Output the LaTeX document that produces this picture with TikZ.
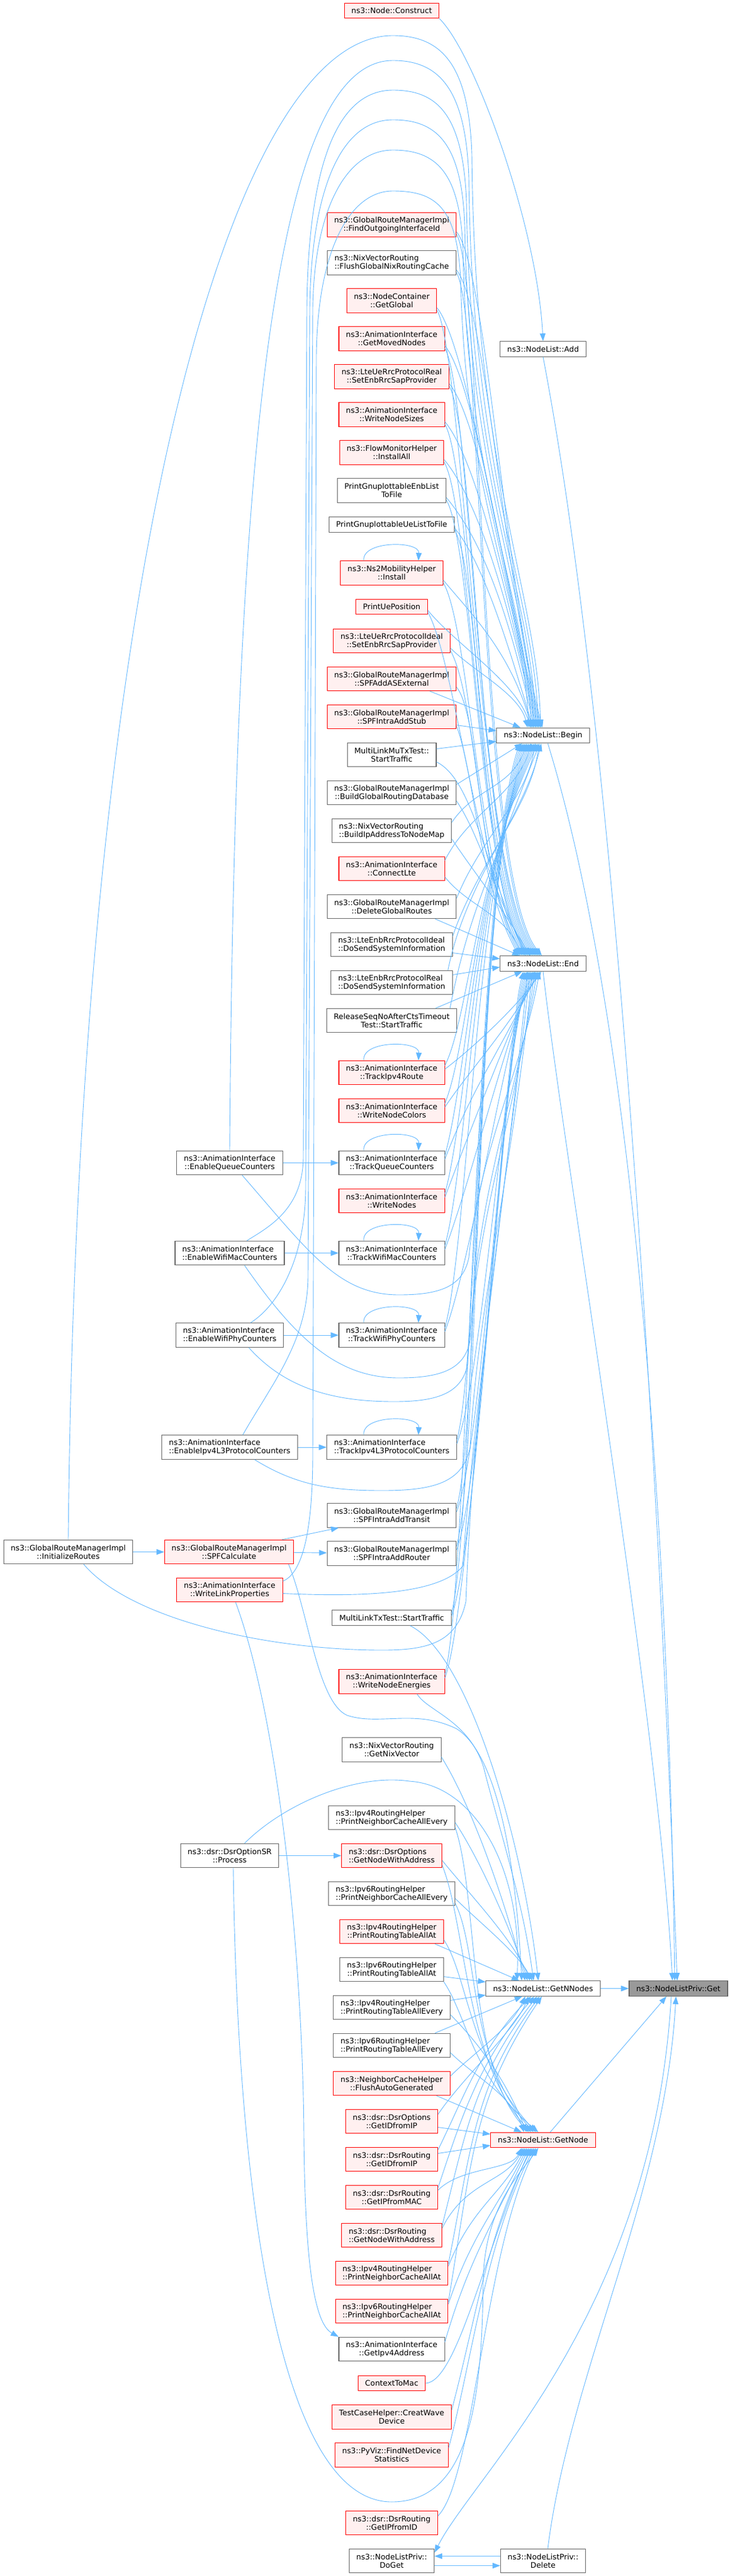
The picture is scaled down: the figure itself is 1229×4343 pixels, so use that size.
\documentclass[tikz,border=0pt]{standalone}
\usepackage{fontspec}
\setmainfont{DejaVu Sans}
\usetikzlibrary{arrows.meta}
\definecolor{edgeblue}{HTML}{63B8FF}
\definecolor{boxgray}{HTML}{666666}
\definecolor{redfill}{HTML}{FFF0F0}
\definecolor{rootfill}{HTML}{999999}

\begin{document}
\begin{tikzpicture}[x=1pt,y=-1pt,
  fn/.style={rectangle,draw=boxgray,fill=white,line width=1.1pt,align=center,font=\fontsize{12.8}{14}\selectfont,inner xsep=12pt,inner ysep=0pt,minimum height=25.5pt},
  two/.style={minimum height=40.5pt},
  hot/.style={draw=red,fill=redfill},
  lft/.style={align=left},
  calls/.style={draw=edgeblue,line width=0.9pt,-{Triangle[length=13pt,width=9.5pt]}}]
\fill[white] (0,0) rectangle (1229,4343);

\node[fn,hot] (construct) at (660,18) {ns3::Node::Construct};
\node[fn,two,hot] (findoutif) at (660,379) {ns3::GlobalRouteManagerImpl\\::FindOutgoingInterfaceId};
\node[fn,two,lft] (flushnix) at (660,443) {ns3::NixVectorRouting\\::FlushGlobalNixRoutingCache};
\node[fn,two,hot] (getglobal) at (660,507) {ns3::NodeContainer\\::GetGlobal};
\node[fn,two,hot] (movednodes) at (660,571) {ns3::AnimationInterface\\::GetMovedNodes};
\node[fn,two,hot] (uerrcreal) at (660,635) {ns3::LteUeRrcProtocolReal\\::SetEnbRrcSapProvider};
\node[fn,two,hot] (nodesizes) at (660,699) {ns3::AnimationInterface\\::WriteNodeSizes};
\node[fn,two,hot] (installall) at (660,763) {ns3::FlowMonitorHelper\\::InstallAll};
\node[fn,two] (enblist) at (660,827) {PrintGnuplottableEnbList\\ToFile};
\node[fn] (uelist) at (660,884.5) {PrintGnuplottableUeListToFile};
\node[fn,two,hot] (ns2install) at (660,966) {ns3::Ns2MobilityHelper\\::Install};
\node[fn,hot] (ueposition) at (660,1023) {PrintUePosition};
\node[fn,two,hot] (uerrcideal) at (660,1080.5) {ns3::LteUeRrcProtocolIdeal\\::SetEnbRrcSapProvider};
\node[fn,two,hot] (asexternal) at (660,1144.5) {ns3::GlobalRouteManagerImpl\\::SPFAddASExternal};
\node[fn,two,hot] (addstub) at (660,1208.5) {ns3::GlobalRouteManagerImpl\\::SPFIntraAddStub};
\node[fn,two] (mumutx) at (660,1272.5) {MultiLinkMuTxTest::\\StartTraffic};
\node[fn,two] (buildgrd) at (660,1336.5) {ns3::GlobalRouteManagerImpl\\::BuildGlobalRoutingDatabase};
\node[fn,two,lft] (buildipmap) at (660,1400.5) {ns3::NixVectorRouting\\::BuildIpAddressToNodeMap};
\node[fn,two,hot] (connectlte) at (660,1464.5) {ns3::AnimationInterface\\::ConnectLte};
\node[fn,two] (delroutes) at (660,1528.5) {ns3::GlobalRouteManagerImpl\\::DeleteGlobalRoutes};
\node[fn,two,lft] (enbideal) at (660,1592.5) {ns3::LteEnbRrcProtocolIdeal\\::DoSendSystemInformation};
\node[fn,two,lft] (enbreal) at (660,1656.5) {ns3::LteEnbRrcProtocolReal\\::DoSendSystemInformation};
\node[fn,two] (releaseseq) at (660,1720.5) {ReleaseSeqNoAfterCtsTimeout\\Test::StartTraffic};
\node[fn,two,hot] (trackroute) at (660,1808.5) {ns3::AnimationInterface\\::TrackIpv4Route};
\node[fn,two,hot] (nodecolors) at (660,1872.5) {ns3::AnimationInterface\\::WriteNodeColors};
\node[fn,two] (trackqueue) at (660,1960.5) {ns3::AnimationInterface\\::TrackQueueCounters};
\node[fn,two,hot] (writenodes) at (660,2024.5) {ns3::AnimationInterface\\::WriteNodes};
\node[fn,two] (trackmac) at (660,2112.5) {ns3::AnimationInterface\\::TrackWifiMacCounters};
\node[fn,two] (trackphy) at (660,2251) {ns3::AnimationInterface\\::TrackWifiPhyCounters};
\node[fn,two,lft] (trackl3) at (660,2440) {ns3::AnimationInterface\\::TrackIpv4L3ProtocolCounters};
\node[fn,two] (addtransit) at (660,2555) {ns3::GlobalRouteManagerImpl\\::SPFIntraAddTransit};
\node[fn,two] (addrouter) at (660,2619) {ns3::GlobalRouteManagerImpl\\::SPFIntraAddRouter};
\node[fn] (multitx) at (660,2727.5) {MultiLinkTxTest::StartTraffic};
\node[fn,two,hot] (nodeenergies) at (660,2835) {ns3::AnimationInterface\\::WriteNodeEnergies};
\node[fn,two] (getnix) at (660,2950) {ns3::NixVectorRouting\\::GetNixVector};
\node[fn,two,lft] (v4neighevery) at (660,3064.5) {ns3::Ipv4RoutingHelper\\::PrintNeighborCacheAllEvery};
\node[fn,two,hot,lft] (optnodeaddr) at (660,3128.5) {ns3::dsr::DsrOptions\\::GetNodeWithAddress};
\node[fn,two,lft] (v6neighevery) at (660,3192.5) {ns3::Ipv6RoutingHelper\\::PrintNeighborCacheAllEvery};
\node[fn,two,hot] (v4tableat) at (660,3256.5) {ns3::Ipv4RoutingHelper\\::PrintRoutingTableAllAt};
\node[fn,two] (v6tableat) at (660,3320.5) {ns3::Ipv6RoutingHelper\\::PrintRoutingTableAllAt};
\node[fn,two,lft] (v4tableevery) at (660,3384.5) {ns3::Ipv4RoutingHelper\\::PrintRoutingTableAllEvery};
\node[fn,two,lft] (v6tableevery) at (660,3448.5) {ns3::Ipv6RoutingHelper\\::PrintRoutingTableAllEvery};
\node[fn,two,hot] (flushauto) at (660,3512.5) {ns3::NeighborCacheHelper\\::FlushAutoGenerated};
\node[fn,two,hot] (optidfromip) at (660,3576.5) {ns3::dsr::DsrOptions\\::GetIDfromIP};
\node[fn,two,hot] (routeidfromip) at (660,3640.5) {ns3::dsr::DsrRouting\\::GetIDfromIP};
\node[fn,two,hot] (ipfrommac) at (660,3704.5) {ns3::dsr::DsrRouting\\::GetIPfromMAC};
\node[fn,two,hot,lft] (routenodeaddr) at (660,3768.5) {ns3::dsr::DsrRouting\\::GetNodeWithAddress};
\node[fn,two,hot,lft] (v4neighat) at (660,3832.5) {ns3::Ipv4RoutingHelper\\::PrintNeighborCacheAllAt};
\node[fn,two,hot,lft] (v6neighat) at (660,3896.5) {ns3::Ipv6RoutingHelper\\::PrintNeighborCacheAllAt};
\node[fn,two] (getipv4addr) at (660,3960.5) {ns3::AnimationInterface\\::GetIpv4Address};
\node[fn,hot] (contexttomac) at (660,4018) {ContextToMac};
\node[fn,two,hot] (creatwave) at (660,4075) {TestCaseHelper::CreatWave\\Device};
\node[fn,two,hot] (pyviz) at (660,4139) {ns3::PyViz::FindNetDevice\\Statistics};
\node[fn,two,hot] (ipfromid) at (660,4253.5) {ns3::dsr::DsrRouting\\::GetIPfromID};
\node[fn,two] (doget) at (660,4317.5) {ns3::NodeListPriv::\\DoGet};

\node[fn,two] (enqueue) at (387,1960.5) {ns3::AnimationInterface\\::EnableQueueCounters};
\node[fn,two,lft] (enmac) at (387,2112.5) {ns3::AnimationInterface\\::EnableWifiMacCounters};
\node[fn,two,lft] (enphy) at (387,2251) {ns3::AnimationInterface\\::EnableWifiPhyCounters};
\node[fn,two,lft] (enl3) at (387,2440) {ns3::AnimationInterface\\::EnableIpv4L3ProtocolCounters};
\node[fn,two,hot] (spfcalc) at (386,2616.5) {ns3::GlobalRouteManagerImpl\\::SPFCalculate};
\node[fn,two,hot] (linkprops) at (387,2680.5) {ns3::AnimationInterface\\::WriteLinkProperties};
\node[fn,two] (dsrprocess) at (387,3128.5) {ns3::dsr::DsrOptionSR\\::Process};
\node[fn,two] (initroutes) at (115,2616.5) {ns3::GlobalRouteManagerImpl\\::InitializeRoutes};

\node[fn] (nladd) at (915,588.5) {ns3::NodeList::Add};
\node[fn] (nlbegin) at (915,1240) {ns3::NodeList::Begin};
\node[fn] (nlend) at (915,1624.5) {ns3::NodeList::End};
\node[fn] (getnnodes) at (915,3352.5) {ns3::NodeList::GetNNodes};
\node[fn,hot] (getnode) at (915,3608) {ns3::NodeList::GetNode};
\node[fn,two] (privdelete) at (915,4317.5) {ns3::NodeListPriv::\\Delete};
\node[fn,fill=rootfill] (privget) at (1143,3352.5) {ns3::NodeListPriv::Get};

\draw[calls] (construct.south east) .. controls (800,90) and (905,380) .. (nladd.north);

\draw[calls] (initroutes.north) .. controls (130,1000) and (380,60) .. (662,60) .. controls (745,60) and (790,110) .. (795,260) .. controls (800,800) and (905,1000) .. ([xshift=-4pt]nlbegin.north);
\draw[calls] (enqueue.north) .. controls (395,700) and (470,102) .. (662,102) .. controls (740,102) and (785,150) .. (790,300) .. controls (795,800) and (900,1000) .. ([xshift=-8pt]nlbegin.north);
\draw[calls] ([xshift=29pt]enmac.north) .. controls (450,2070) and (511,2040) .. (511,1950) -- (517,520) .. controls (519,300) and (560,152) .. (662,152) .. controls (735,152) and (780,190) .. (786,340) .. controls (792,800) and (895,1000) .. ([xshift=-12pt]nlbegin.north);
\draw[calls] ([xshift=35pt]enphy.north) .. controls (470,2200) and (515,2120) .. (515,2000) -- (522,520) .. controls (524,330) and (570,202) .. (662,202) .. controls (735,202) and (778,240) .. (783,380) .. controls (790,800) and (890,1000) .. ([xshift=-16pt]nlbegin.north);
\draw[calls] ([xshift=22pt]enl3.north) .. controls (460,2330) and (519,2260) .. (519,2150) -- (527,520) .. controls (529,360) and (580,253) .. (662,253) .. controls (735,253) and (775,290) .. (780,420) .. controls (787,820) and (885,1000) .. ([xshift=-20pt]nlbegin.north);
\draw[calls] ([yshift=-6pt]linkprops.north east) .. controls (515,2650) and (527,2560) .. (527,2450) -- (533,600) .. controls (535,420) and (590,322) .. (662,322) .. controls (735,322) and (770,350) .. (776,470) .. controls (785,850) and (880,1000) .. ([xshift=-24pt]nlbegin.north);

\draw[calls] ([xshift=21pt]enqueue.south) .. controls (520,2110) and (570,2183) .. (672,2183) .. controls (740,2183) and (780,2170) .. (790,2120) .. controls (805,1950) and (880,1800) .. ([xshift=-6pt]nlend.south);
\draw[calls] ([xshift=25pt]enmac.south) .. controls (500,2260) and (570,2323) .. (672,2323) .. controls (740,2323) and (783,2310) .. (792,2260) .. controls (805,2000) and (870,1850) .. ([xshift=-10pt]nlend.south);
\draw[calls] ([xshift=32pt]enphy.south) .. controls (480,2340) and (560,2363) .. (664,2363) .. controls (735,2363) and (778,2350) .. (788,2300) .. controls (802,2050) and (865,1900) .. ([xshift=-14pt]nlend.south);
\draw[calls] ([xshift=42pt]enl3.south) .. controls (500,2505) and (560,2513) .. (644,2513) .. controls (730,2513) and (780,2500) .. (792,2440) .. controls (805,2200) and (860,2000) .. ([xshift=-18pt]nlend.south);
\draw[calls] ([xshift=26pt]initroutes.south) .. controls (220,2730) and (450,2782) .. (644,2782) .. controls (720,2782) and (770,2770) .. (785,2700) .. controls (800,2300) and (860,1950) .. ([xshift=-22pt]nlend.south);
\draw[calls] ([yshift=-6pt]linkprops.east) .. controls (600,2692) and (740,2690) .. (780,2640) .. controls (795,2400) and (860,1950) .. ([xshift=-26pt]nlend.south);

\draw[calls] ([yshift=-12pt]findoutif.east) .. controls +(50,60) and (850,980) .. ([xshift=-1pt]nlbegin.north);
\draw[calls] ([yshift=-16pt]findoutif.east) .. controls +(45,80) and (805,1480) .. ([xshift=-2pt]nlend.north);
\draw[calls] ([yshift=-12pt]flushnix.east) .. controls +(50,60) and (850,980) .. ([xshift=-3pt]nlbegin.north);
\draw[calls] ([yshift=-16pt]flushnix.east) .. controls +(45,80) and (805,1480) .. ([xshift=-5pt]nlend.north);
\draw[calls] ([yshift=-12pt]getglobal.east) .. controls +(50,60) and (850,980) .. ([xshift=-5pt]nlbegin.north);
\draw[calls] ([yshift=-16pt]getglobal.east) .. controls +(45,80) and (805,1480) .. ([xshift=-8pt]nlend.north);
\draw[calls] ([yshift=-12pt]movednodes.east) .. controls +(50,60) and (850,980) .. ([xshift=-7pt]nlbegin.north);
\draw[calls] ([yshift=-16pt]movednodes.east) .. controls +(45,80) and (805,1480) .. ([xshift=-11pt]nlend.north);
\draw[calls] ([yshift=-12pt]uerrcreal.east) .. controls +(50,60) and (850,980) .. ([xshift=-9pt]nlbegin.north);
\draw[calls] ([yshift=-16pt]uerrcreal.east) .. controls +(45,80) and (805,1480) .. ([xshift=-14pt]nlend.north);
\draw[calls] ([yshift=-12pt]nodesizes.east) .. controls +(50,60) and (850,980) .. ([xshift=-11pt]nlbegin.north);
\draw[calls] ([yshift=-16pt]nodesizes.east) .. controls +(45,80) and (805,1480) .. ([xshift=-17pt]nlend.north);
\draw[calls] ([yshift=-12pt]installall.east) .. controls +(50,60) and (850,980) .. ([xshift=-13pt]nlbegin.north);
\draw[calls] ([yshift=-16pt]installall.east) .. controls +(45,80) and (805,1480) .. ([xshift=-20pt]nlend.north);
\draw[calls] ([yshift=-12pt]enblist.east) .. controls +(50,60) and (850,1000) .. ([xshift=-15pt]nlbegin.north);
\draw[calls] ([yshift=-16pt]enblist.east) .. controls +(45,80) and (805,1480) .. ([xshift=-23pt]nlend.north);
\draw[calls] ([yshift=-6pt]uelist.east) .. controls +(50,60) and (860,1100) .. ([xshift=-17pt]nlbegin.north);
\draw[calls] ([yshift=-9pt]uelist.east) .. controls +(45,80) and (805,1480) .. ([xshift=-26pt]nlend.north);
\draw[calls] ([yshift=-12pt]ns2install.east) .. controls +(50,60) and (860,1100) .. ([xshift=-19pt]nlbegin.north);
\draw[calls] ([yshift=-16pt]ns2install.east) .. controls +(45,80) and (805,1480) .. ([xshift=-29pt]nlend.north);
\draw[calls] ([yshift=-6pt]ueposition.east) .. controls +(50,60) and (870,1150) .. ([xshift=-21pt]nlbegin.north);
\draw[calls] ([yshift=-9pt]ueposition.east) .. controls +(45,80) and (805,1480) .. ([xshift=-32pt]nlend.north);
\draw[calls] ([yshift=-12pt]uerrcideal.east) .. controls +(40,40) and (875,1170) .. ([xshift=-26pt]nlbegin.north);
\draw[calls] ([yshift=-16pt]uerrcideal.east) .. controls +(45,80) and (805,1480) .. ([xshift=-35pt]nlend.north);
\draw[calls] ([xshift=-45pt]asexternal.south east) -- ([xshift=-38pt]nlbegin.north);
\draw[calls] ([yshift=-14pt]asexternal.east) .. controls +(40,50) and (805,1480) .. ([xshift=-38pt]nlend.north);
\draw[calls] ([yshift=-14pt]addstub.east) -- ([yshift=8pt]nlbegin.west);
\draw[calls] ([yshift=-16pt]addstub.east) .. controls +(30,80) and (805,1480) .. ([xshift=-41pt]nlend.north);

\draw[calls] ([yshift=10pt]mumutx.east) -- ([yshift=-10pt]nlbegin.west);
\draw[calls] ([yshift=-12pt]mumutx.east) .. controls +(60,30) and (815,1450) .. ([xshift=-30pt]nlend.north);
\draw[calls] ([yshift=14pt]buildgrd.east) -- ([xshift=-35pt]nlbegin.south);
\draw[calls] ([yshift=-14pt]buildgrd.east) .. controls +(40,60) and (830,1500) .. ([xshift=-26pt]nlend.north);
\draw[calls] ([yshift=14pt]buildipmap.east) .. controls +(40,-60) and (860,1330) .. ([xshift=-27pt]nlbegin.south);
\draw[calls] ([yshift=-14pt]buildipmap.east) .. controls +(40,60) and (840,1520) .. ([xshift=-22pt]nlend.north);
\draw[calls] ([yshift=14pt]connectlte.east) .. controls +(40,-80) and (870,1340) .. ([xshift=-20pt]nlbegin.south);
\draw[calls] ([yshift=-14pt]connectlte.east) .. controls +(40,50) and (850,1540) .. ([xshift=-35pt]nlend.north);
\draw[calls] ([yshift=14pt]delroutes.east) .. controls +(40,-100) and (885,1350) .. ([xshift=-13pt]nlbegin.south);
\draw[calls] ([xshift=-36pt]delroutes.south east) -- ([xshift=-39pt]nlend.north);
\draw[calls] ([yshift=14pt]enbideal.east) .. controls +(40,-120) and (895,1360) .. ([xshift=-7pt]nlbegin.south);
\draw[calls] ([yshift=-14pt]enbideal.east) -- ([yshift=8pt]nlend.west);

\draw[calls] ([yshift=13pt]enbreal.east) -- ([yshift=-6pt]nlend.west);
\draw[calls] ([xshift=-8pt]enbreal.north east) .. controls +(30,-150) and (880,1380) .. ([xshift=-3pt]nlbegin.south);
\draw[calls] ([xshift=-36pt]releaseseq.north east) -- ([xshift=-35pt]nlend.south);
\draw[calls] ([xshift=-12pt]releaseseq.north east) .. controls +(30,-150) and (815,1500) .. ([xshift=-6pt]nlbegin.south);
\draw[calls] ([yshift=6pt]trackroute.east) .. controls +(40,-30) and (870,1700) .. ([xshift=-3pt]nlend.south);
\draw[calls] ([yshift=12pt]trackroute.east) .. controls +(40,-80) and (800,1480) .. ([xshift=-9pt]nlbegin.south);
\draw[calls] ([yshift=6pt]nodecolors.east) .. controls +(40,-60) and (860,1730) .. ([xshift=-6pt]nlend.south);
\draw[calls] ([yshift=12pt]nodecolors.east) .. controls +(40,-100) and (800,1480) .. ([xshift=-12pt]nlbegin.south);
\draw[calls] ([yshift=6pt]trackqueue.east) .. controls +(45,-120) and (850,1760) .. ([xshift=-9pt]nlend.south);
\draw[calls] ([yshift=12pt]trackqueue.east) .. controls +(40,-150) and (800,1480) .. ([xshift=-15pt]nlbegin.south);
\draw[calls] ([yshift=6pt]writenodes.east) .. controls +(45,-120) and (850,1760) .. ([xshift=-12pt]nlend.south);
\draw[calls] ([yshift=12pt]writenodes.east) .. controls +(40,-150) and (800,1480) .. ([xshift=-18pt]nlbegin.south);
\draw[calls] ([yshift=6pt]trackmac.east) .. controls +(45,-120) and (850,1760) .. ([xshift=-15pt]nlend.south);
\draw[calls] ([yshift=12pt]trackmac.east) .. controls +(40,-150) and (800,1480) .. ([xshift=-21pt]nlbegin.south);
\draw[calls] ([yshift=6pt]trackphy.east) .. controls +(45,-120) and (850,1760) .. ([xshift=-18pt]nlend.south);
\draw[calls] ([yshift=12pt]trackphy.east) .. controls +(40,-150) and (800,1480) .. ([xshift=-24pt]nlbegin.south);
\draw[calls] ([yshift=6pt]trackl3.east) .. controls +(45,-120) and (850,1760) .. ([xshift=-21pt]nlend.south);
\draw[calls] ([yshift=12pt]trackl3.east) .. controls +(40,-150) and (800,1480) .. ([xshift=-27pt]nlbegin.south);
\draw[calls] ([yshift=6pt]addtransit.east) .. controls +(45,-120) and (850,1760) .. ([xshift=-24pt]nlend.south);
\draw[calls] ([yshift=12pt]addtransit.east) .. controls +(40,-150) and (800,1480) .. ([xshift=-30pt]nlbegin.south);
\draw[calls] ([yshift=6pt]addrouter.east) .. controls +(45,-120) and (850,1760) .. ([xshift=-27pt]nlend.south);
\draw[calls] ([yshift=12pt]addrouter.east) .. controls +(40,-150) and (800,1480) .. ([xshift=-33pt]nlbegin.south);
\draw[calls] ([yshift=3pt]multitx.east) .. controls +(45,-120) and (850,1760) .. ([xshift=-30pt]nlend.south);
\draw[calls] ([yshift=8pt]multitx.east) .. controls +(40,-150) and (800,1480) .. ([xshift=-36pt]nlbegin.south);
\draw[calls] ([yshift=6pt]nodeenergies.east) .. controls +(45,-120) and (850,1760) .. ([xshift=-33pt]nlend.south);
\draw[calls] ([yshift=12pt]nodeenergies.east) .. controls +(40,-150) and (800,1480) .. ([xshift=-39pt]nlbegin.south);

\draw[calls] ([xshift=-47pt]ns2install.north) .. controls +(-4,-34) and +(2,-34) .. ([xshift=45pt]ns2install.north);
\draw[calls] ([xshift=-47pt]trackroute.north) .. controls +(-4,-34) and +(2,-34) .. ([xshift=45pt]trackroute.north);
\draw[calls] ([xshift=-47pt]trackqueue.north) .. controls +(-4,-34) and +(2,-34) .. ([xshift=45pt]trackqueue.north);
\draw[calls] ([xshift=-47pt]trackmac.north) .. controls +(-4,-34) and +(2,-34) .. ([xshift=45pt]trackmac.north);
\draw[calls] ([xshift=-47pt]trackphy.north) .. controls +(-4,-34) and +(2,-34) .. ([xshift=45pt]trackphy.north);
\draw[calls] ([xshift=-47pt]trackl3.north) .. controls +(-4,-34) and +(2,-34) .. ([xshift=45pt]trackl3.north);

\draw[calls] (enqueue) -- (trackqueue);
\draw[calls] (enmac) -- (trackmac);
\draw[calls] (enphy) -- (trackphy);
\draw[calls] (enl3) -- (trackl3);
\draw[calls] (initroutes) -- (spfcalc);
\draw[calls] ([xshift=-20pt]spfcalc.north east) -- ([xshift=20pt]addtransit.south west);
\draw[calls] (spfcalc) -- (addrouter);
\draw[calls] (dsrprocess) -- (optnodeaddr);
\draw[calls] ([xshift=10pt]linkprops.south) .. controls (470,2900) and (510,3300) .. (512,3600) .. controls (514,3850) and (535,3920) .. (getipv4addr.north west);

\draw[calls] ([xshift=-9pt]spfcalc.south east) .. controls (520,2720) and (535,2870) .. (585,2892) .. controls (640,2910) and (700,2880) .. (770,2915) .. controls (840,2960) and (870,3150) .. ([xshift=-36pt]getnnodes.north);
\draw[calls] ([xshift=-47pt]nodeenergies.south east) .. controls (720,2885) and (790,2900) .. (815,2980) .. controls (840,3080) and (880,3200) .. ([xshift=-16pt]getnnodes.north);
\draw[calls] ([xshift=31pt]multitx.south) .. controls (790,2790) and (880,3100) .. ([xshift=-8pt]getnnodes.north);
\draw[calls] ([xshift=25pt]dsrprocess.north) .. controls (480,3040) and (600,2990) .. (690,3003) .. controls (800,3010) and (880,3150) .. ([xshift=-44pt]getnnodes.north);
\draw[calls] ([xshift=6pt]dsrprocess.south) .. controls (400,3700) and (470,4218) .. (660,4218) .. controls (790,4218) and (812,4050) .. (814,3850) .. controls (815,3720) and (880,3660) .. ([xshift=-8pt]getnode.south);

\draw[calls] ([yshift=-12pt]getnix.east) .. controls +(50,80) and (850,3200) .. ([xshift=-30pt]getnnodes.north);
\draw[calls] ([yshift=-8pt]v4neighevery.east) .. controls +(40,60) and (860,3250) .. ([xshift=-26pt]getnnodes.north);
\draw[calls] ([yshift=-16pt]v4neighevery.east) .. controls +(40,120) and (785,3480) .. ([xshift=-24pt]getnode.north);
\draw[calls] ([yshift=-8pt]optnodeaddr.east) .. controls +(40,50) and (865,3270) .. ([xshift=-22pt]getnnodes.north);
\draw[calls] ([yshift=-16pt]optnodeaddr.east) .. controls +(40,100) and (785,3480) .. ([xshift=-20pt]getnode.north);
\draw[calls] ([yshift=-8pt]v6neighevery.east) .. controls +(40,40) and (870,3290) .. ([xshift=-18pt]getnnodes.north);
\draw[calls] ([yshift=-16pt]v6neighevery.east) .. controls +(40,80) and (788,3470) .. ([xshift=-16pt]getnode.north);
\draw[calls] ([xshift=-15pt]v4tableat.south east) -- ([xshift=-40pt]getnnodes.north);
\draw[calls] ([yshift=-14pt]v4tableat.east) .. controls +(40,60) and (790,3470) .. ([xshift=-12pt]getnode.north);
\draw[calls] ([yshift=-12pt]v6tableat.east) -- ([yshift=11pt]getnnodes.west);
\draw[calls] (v6tableat.south east) .. controls +(40,60) and (795,3500) .. ([xshift=-8pt]getnode.north);
\draw[calls] ([yshift=12pt]v4tableevery.east) -- ([yshift=-11pt]getnnodes.west);
\draw[calls] ([yshift=-12pt]v4tableevery.east) .. controls +(40,40) and (850,3500) .. ([xshift=-28pt]getnode.north);
\draw[calls] ([xshift=-26pt]v6tableevery.north east) -- ([xshift=-35pt]getnnodes.south);
\draw[calls] ([yshift=-12pt]v6tableevery.east) .. controls +(40,40) and (860,3530) .. ([xshift=-32pt]getnode.north);
\draw[calls] ([yshift=12pt]flushauto.east) .. controls +(40,-40) and (860,3420) .. ([xshift=-30pt]getnnodes.south);
\draw[calls] ([xshift=-23pt]flushauto.south east) -- ([xshift=-36pt]getnode.north);
\draw[calls] ([yshift=12pt]optidfromip.east) .. controls +(40,-60) and (870,3420) .. ([xshift=-25pt]getnnodes.south);
\draw[calls] ([yshift=-10pt]optidfromip.east) -- ([yshift=10pt]getnode.west);
\draw[calls] ([yshift=10pt]routeidfromip.east) -- ([yshift=-9pt]getnode.west);
\draw[calls] ([yshift=16pt]routeidfromip.east) .. controls +(40,-80) and (810,3450) .. ([xshift=-20pt]getnnodes.south);
\draw[calls] ([yshift=12pt]ipfrommac.east) .. controls +(40,-40) and (860,3660) .. ([xshift=-36pt]getnode.south);
\draw[calls] ([yshift=16pt]ipfrommac.east) .. controls +(40,-120) and (805,3480) .. ([xshift=-15pt]getnnodes.south);
\draw[calls] ([yshift=12pt]routenodeaddr.east) .. controls +(40,-80) and (850,3680) .. ([xshift=-33pt]getnode.south);
\draw[calls] ([yshift=16pt]routenodeaddr.east) .. controls +(40,-160) and (800,3500) .. ([xshift=-10pt]getnnodes.south);
\draw[calls] ([yshift=12pt]v4neighat.east) .. controls +(40,-100) and (845,3700) .. ([xshift=-30pt]getnode.south);
\draw[calls] ([yshift=16pt]v4neighat.east) .. controls +(40,-200) and (798,3520) .. ([xshift=-6pt]getnnodes.south);
\draw[calls] ([yshift=12pt]v6neighat.east) .. controls +(40,-120) and (840,3720) .. ([xshift=-27pt]getnode.south);
\draw[calls] ([yshift=16pt]v6neighat.east) .. controls +(40,-240) and (796,3540) .. ([xshift=-2pt]getnnodes.south);
\draw[calls] ([yshift=12pt]getipv4addr.east) .. controls +(40,-140) and (835,3740) .. ([xshift=-24pt]getnode.south);
\draw[calls] (contexttomac.east) .. controls (770,4015) and (815,3800) .. ([xshift=-21pt]getnode.south);
\draw[calls] ([yshift=12pt]creatwave.east) .. controls +(40,-150) and (822,3760) .. ([xshift=-18pt]getnode.south);
\draw[calls] ([yshift=12pt]pyviz.east) .. controls +(40,-150) and (818,3780) .. ([xshift=-15pt]getnode.south);
\draw[calls] ([yshift=12pt]ipfromid.east) .. controls +(60,-60) and (815,3800) .. ([xshift=-12pt]getnode.south);

\draw[calls] (getnnodes) -- (privget);
\draw[calls] (nladd.south) .. controls (1020,1150) and (1100,2200) .. ([xshift=-2pt]privget.north);
\draw[calls] ([xshift=8pt]nlbegin.south) .. controls (1060,1700) and (1125,2500) .. ([xshift=-6pt]privget.north);
\draw[calls] (nlend.south) .. controls (950,1950) and (1110,2900) .. ([xshift=-10pt]privget.north);
\draw[calls] ([xshift=12pt]getnode.north) -- ([xshift=-20pt]privget.south);
\draw[calls] ([xshift=8pt]privdelete.north) .. controls (960,4000) and (1120,3700) .. ([xshift=-4pt]privget.south);
\draw[calls] ([xshift=-12pt]privget.south) .. controls (1100,3900) and (800,4170) .. ([yshift=14pt]doget.east);
\draw[calls] ([yshift=-8pt]doget.east) -- ([yshift=-8pt]privdelete.west);
\draw[calls] ([yshift=8pt]privdelete.west) -- ([yshift=8pt]doget.east);
\end{tikzpicture}
\end{document}
